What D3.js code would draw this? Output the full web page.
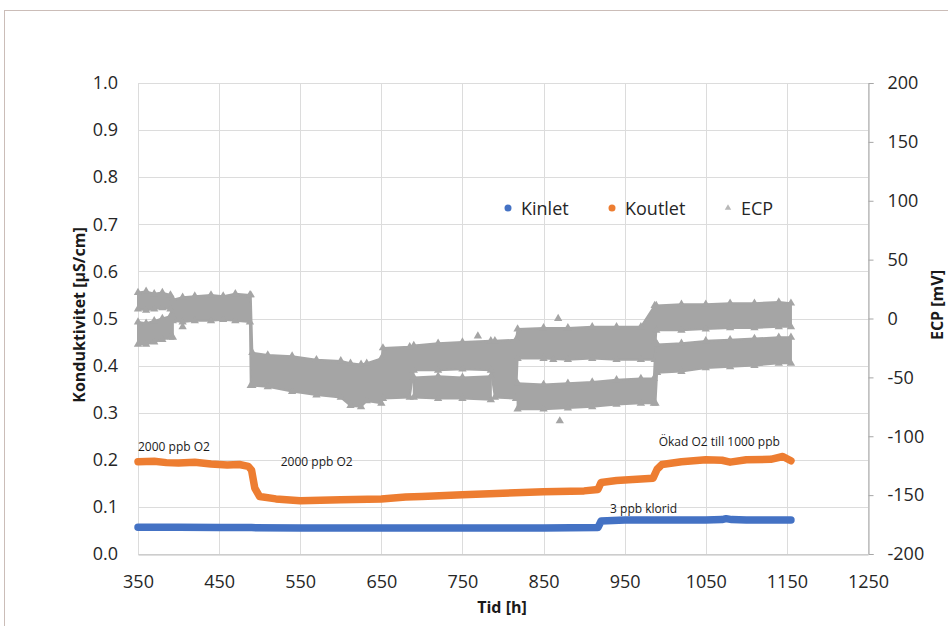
<!DOCTYPE html>
<html>
<head>
<meta charset="utf-8">
<script src="https://cdn.jsdelivr.net/npm/d3@7"></script>
<style>
  body { margin: 0; background: #fff; }
  svg { display: block; font-family: "Open Sans", sans-serif; }
</style>
</head>
<body>
<div id="drawing"></div>
<script>
// ---- data ----
// time [h], conductivity [µS/cm]
const kinlet = [
  [350, 0.057], [400, 0.057], [450, 0.056], [490, 0.056], [550, 0.055],
  [650, 0.055], [750, 0.055], [850, 0.055], [917, 0.056], [921, 0.070],
  [950, 0.072], [1000, 0.072], [1050, 0.072], [1070, 0.073], [1075, 0.075],
  [1082, 0.073], [1100, 0.072], [1155, 0.072]
];
const koutlet = [
  [350, 0.196], [370, 0.197], [385, 0.194], [400, 0.193], [420, 0.195],
  [440, 0.191], [460, 0.189], [475, 0.190], [486, 0.186], [490, 0.178],
  [494, 0.140], [500, 0.122], [520, 0.117], [550, 0.113], [600, 0.115],
  [650, 0.117], [680, 0.121], [700, 0.122], [750, 0.126], [800, 0.129],
  [850, 0.132], [900, 0.134], [917, 0.137], [921, 0.152], [940, 0.156],
  [960, 0.158], [985, 0.161], [990, 0.180], [996, 0.190], [1020, 0.196],
  [1050, 0.200], [1070, 0.199], [1080, 0.195], [1100, 0.200], [1130, 0.201],
  [1145, 0.207], [1155, 0.198]
];
// ECP [mV]: [time, low, high] envelopes of the two point clouds (null = gap)
const ecpBand1 = [
  [350, 8, 22], [360, 7, 23], [370, 8, 21], [380, 9, 22], [390, 8, 20],
  [393, -2, 16], [405, -3, 18], [420, -2, 19], [440, -2, 20], [455, -1, 19],
  [470, -2, 21], [488, -3, 20], [489, -57, 20], [491, -57, -29],
  [510, -58, -31], [540, -62, -32], [570, -65, -35], [600, -67, -36],
  [612, -74, -38], [625, -75, -39], [632, -70, -38], [650, -72, -34],
  [652, -68, -25], [685, -67, -24], [690, -44, -23], [720, -44, -21],
  [750, -43, -20], [785, -44, -19], [790, -67, -19], [816, -68, -18],
  [818, -34, -9], [850, -34, -8], [880, -35, -8], [910, -34, -7],
  [940, -35, -7], [970, -35, -7], [987, -35, 11], [989, -10, 11],
  [1020, -10, 12], [1050, -9, 12], [1080, -8, 13], [1110, -8, 13],
  [1140, -7, 14], [1155, -7, 13]
];
const ecpBand2 = [
  [350, -22, -3], [360, -22, -4], [370, -20, -2], [380, -18, 0], [390, -16, 2],
  [393, -16, 2], null,
  [690, -67, -50], [720, -68, -49], [750, -68, -50], [785, -69, -49], null,
  [818, -77, -55], [850, -77, -56], [880, -76, -55], [910, -75, -54],
  [940, -73, -52], [970, -72, -51], [986, -72, -51], [988, -72, -20],
  [990, -46, -22], [1020, -45, -21], [1050, -42, -19], [1080, -41, -18],
  [1110, -40, -17], [1140, -38, -16], [1155, -38, -16]
];
const ecpOutliers = [[405, -7], [769, -15], [862, -35], [868, 0], [870, -87]];

const xTicks = [350, 450, 550, 650, 750, 850, 950, 1050, 1150, 1250];
const leftTicks = [0, 0.1, 0.2, 0.3, 0.4, 0.5, 0.6, 0.7, 0.8, 0.9, 1.0];
const rightTicks = [-200, -150, -100, -50, 0, 50, 100, 150, 200];
const seriesNames = ["Kinlet", "Koutlet", "ECP"];
const notes = [
  {text: "2000 ppb O2", t: 350, v: 0.219},
  {text: "2000 ppb O2", t: 526, v: 0.187},
  {text: "Ökad O2 till 1000 ppb", t: 992, v: 0.229},
  {text: "3 ppb klorid", t: 932, v: 0.087}
];

// ---- layout ----
const width = 948;
const height = 626;
const plot = {left: 138, right: 868, top: 83, bottom: 554};
const colors = {Kinlet: "#4472c4", Koutlet: "#ed7d31", ECP: "#a5a5a5"};

const svg = d3.select("#drawing").append("svg")
  .attr("width", width)
  .attr("height", height)
  .style("background", "#fff");

// outer chart frame
svg.append("rect")
  .attr("x", 4.5).attr("y", 10.5)
  .attr("width", 1000).attr("height", 700)
  .attr("fill", "none")
  .attr("stroke", "#cbbdb8");

const x = d3.scaleLinear().domain([350, 1250]).range([plot.left, plot.right]);
const yL = d3.scaleLinear().domain([0, 1]).range([plot.bottom, plot.top]);
const yR = d3.scaleLinear().domain([-200, 200]).range([plot.bottom, plot.top]);

// gridlines
const grid = svg.append("g").attr("stroke", "#dcdcdc").attr("stroke-width", 1);
grid.selectAll(".h").data(leftTicks).join("line")
  .attr("x1", plot.left).attr("x2", plot.right)
  .attr("y1", d => Math.round(yL(d)) + 0.5).attr("y2", d => Math.round(yL(d)) + 0.5);
grid.selectAll(".v").data(xTicks).join("line")
  .attr("y1", plot.top).attr("y2", plot.bottom)
  .attr("x1", d => Math.round(x(d)) + 0.5).attr("x2", d => Math.round(x(d)) + 0.5);

// axes (plain hyphen minus, like the original)
const fontSize = 18;
const leftAxis = svg.append("g")
  .attr("transform", `translate(${plot.left},0)`)
  .call(d3.axisLeft(yL).tickValues(leftTicks).tickFormat(d => d.toFixed(1)).tickSize(0).tickPadding(20));
const rightAxis = svg.append("g")
  .attr("transform", `translate(${plot.right + 0.5},0)`)
  .call(d3.axisRight(yR).tickValues(rightTicks).tickFormat(d => String(d)).tickSize(5).tickPadding(14));
const bottomAxis = svg.append("g")
  .attr("transform", `translate(0,${plot.bottom + 0.5})`)
  .call(d3.axisBottom(x).tickValues(xTicks).tickFormat(d => String(d)).tickSize(0).tickPadding(21));

leftAxis.select(".domain").remove();
rightAxis.select(".domain").attr("stroke", "#a6a6a6");
rightAxis.selectAll(".tick line").attr("stroke", "#a6a6a6");
bottomAxis.select(".domain").attr("stroke", "#bfbfbf");
[leftAxis, rightAxis, bottomAxis].forEach(a => {
  a.attr("font-family", null).attr("font-size", null);
  a.selectAll("text").style("font-size", fontSize + "px").attr("fill", "#262626");
});

// axis titles
svg.append("text")
  .attr("transform", "translate(85,315) rotate(-90)")
  .attr("text-anchor", "middle")
  .style("font-size", "16px").style("font-weight", "bold").attr("fill", "#1a1a1a")
  .text("Konduktivitet [µS/cm]");
svg.append("text")
  .attr("transform", "translate(943,305) rotate(-90)")
  .attr("text-anchor", "middle")
  .style("font-size", "16px").style("font-weight", "bold").attr("fill", "#1a1a1a")
  .text("ECP [mV]");
svg.append("text")
  .attr("x", 502).attr("y", 613)
  .attr("text-anchor", "middle")
  .style("font-size", "16px").style("font-weight", "bold").attr("fill", "#1a1a1a")
  .text("Tid [h]");

// ECP point clouds
const ecpArea = d3.area()
  .defined(d => d)
  .x(d => x(d[0]))
  .y0(d => yR(d[1]))
  .y1(d => yR(d[2]));
const ecpG = svg.append("g");
[ecpBand1, ecpBand2].forEach(band => {
  ecpG.append("path")
    .attr("d", ecpArea(band))
    .attr("fill", colors.ECP)
    .attr("stroke", colors.ECP)
    .attr("stroke-width", 2)
    .attr("stroke-linejoin", "round");
  const pts = band.filter(d => d).flatMap(d => [[d[0], d[1]], [d[0], d[2]]]);
  ecpG.selectAll(null).data(pts).join("path")
    .attr("d", d3.symbol().type(d3.symbolTriangle).size(30))
    .attr("transform", d => `translate(${x(d[0])},${yR(d[1])})`)
    .attr("fill", colors.ECP);
});
ecpG.selectAll(null).data(ecpOutliers).join("path")
  .attr("d", d3.symbol().type(d3.symbolTriangle).size(30))
  .attr("transform", d => `translate(${x(d[0])},${yR(d[1])})`)
  .attr("fill", colors.ECP);

// conductivity series
const line = d3.line().x(d => x(d[0])).y(d => yL(d[1]));
[["Koutlet", koutlet], ["Kinlet", kinlet]].forEach(([name, data]) => {
  svg.append("path")
    .attr("d", line(data))
    .attr("fill", "none")
    .attr("stroke", colors[name])
    .attr("stroke-width", 7.5)
    .attr("stroke-linejoin", "round")
    .attr("stroke-linecap", "round");
});

// annotations
svg.selectAll(".note").data(notes).join("text")
  .attr("x", d => x(d.t))
  .attr("y", d => yL(d.v))
  .style("font-size", "12px")
  .attr("fill", "#1a1a1a")
  .text(d => d.text);

// legend
const legendX = [508, 612, 728];
const legend = svg.append("g");
seriesNames.forEach((name, i) => {
  const g = legend.append("g").attr("transform", `translate(${legendX[i]},208)`);
  if (name === "ECP") {
    g.append("path")
      .attr("d", d3.symbol().type(d3.symbolTriangle).size(18))
      .attr("fill", "#b8b8b8");
  } else {
    g.append("circle").attr("r", 3.5).attr("fill", colors[name]);
  }
  g.append("text")
    .attr("x", 13).attr("y", 6.5)
    .style("font-size", fontSize + "px")
    .attr("fill", "#262626")
    .text(name);
});
</script>
</body>
</html>
